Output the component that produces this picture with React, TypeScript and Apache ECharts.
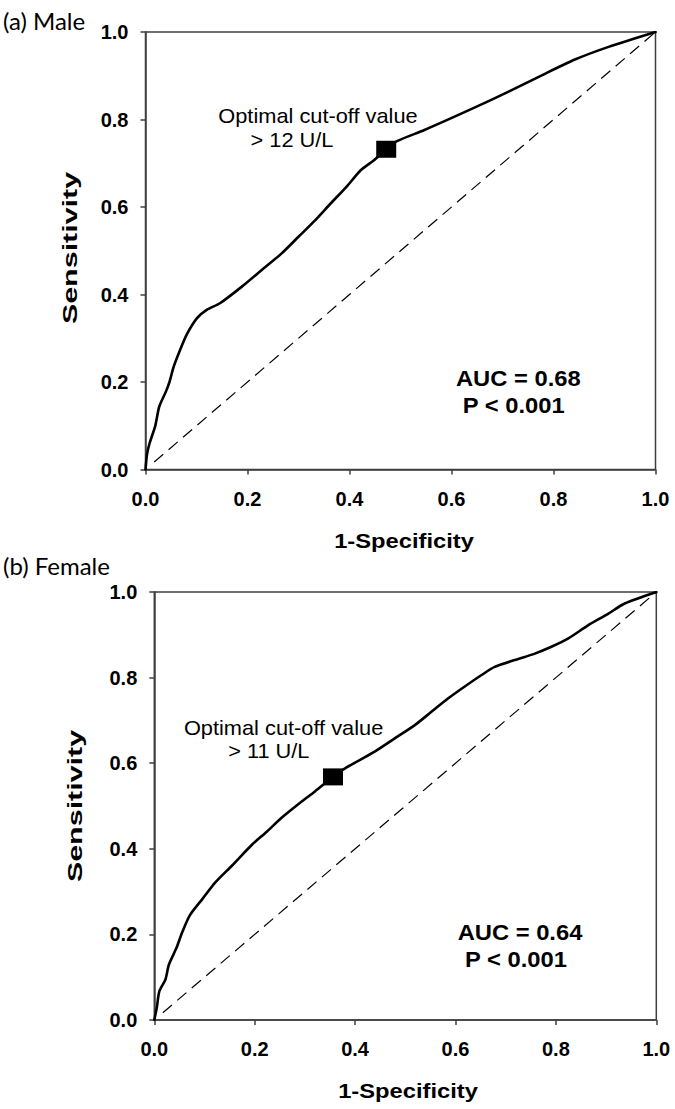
import React, { useEffect, useRef } from "react";
import * as echarts from "echarts";

// ---- Data ----
const MALE_X = [0, 0.003, 0.008, 0.019, 0.027, 0.040, 0.047, 0.055, 0.067, 0.081, 0.101, 0.12, 0.146, 0.189, 0.228, 0.267, 0.30, 0.333, 0.363, 0.394, 0.422, 0.448, 0.472, 0.494, 0.547, 0.645, 0.711, 0.777, 0.842, 0.908, 1];
const MALE_Y = [0, 0.035, 0.06, 0.099, 0.144, 0.178, 0.2, 0.234, 0.271, 0.309, 0.346, 0.365, 0.38, 0.418, 0.456, 0.494, 0.532, 0.570, 0.608, 0.646, 0.684, 0.707, 0.732, 0.751, 0.776, 0.827, 0.863, 0.901, 0.937, 0.966, 1];
const FEMALE_X = [0, 0.005, 0.010, 0.022, 0.029, 0.044, 0.056, 0.071, 0.096, 0.122, 0.155, 0.194, 0.224, 0.253, 0.293, 0.32, 0.356, 0.38, 0.439, 0.479, 0.519, 0.552, 0.585, 0.622, 0.652, 0.678, 0.718, 0.758, 0.791, 0.824, 0.864, 0.904, 0.937, 1];
const FEMALE_Y = [0, 0.029, 0.067, 0.094, 0.129, 0.168, 0.206, 0.245, 0.283, 0.322, 0.361, 0.409, 0.44, 0.472, 0.51, 0.534, 0.568, 0.588, 0.627, 0.658, 0.689, 0.720, 0.751, 0.782, 0.806, 0.825, 0.841, 0.856, 0.872, 0.891, 0.922, 0.949, 0.973, 1];
const MALE_CUTOFF = [0.472, 0.732];
const FEMALE_CUTOFF = [0.356, 0.568];
const DIAG_X = [0.017, 1];
const DIAG_Y = [0.017, 1];
const PANEL_LABELS = ["(a) Male", "(b) Female"];
const CUTOFF_LABELS = ["> 12 U/L", "> 11 U/L"];
const AUC_LABELS = ["AUC = 0.68", "AUC = 0.64"];
const P_LABEL = "P < 0.001";
const X_NAME = "1-Specificity";
const Y_NAME = "Sensitivity";
const OPT_LABEL = "Optimal cut-off value";

const zip = (xs: number[], ys: number[]) => xs.map((x, i) => [x, ys[i]]);

const AXIS_COLOR = "#3f3f3f";
const FONT = "'Liberation Sans', Arial, sans-serif";

function xAxis(gridIndex: number) {
  return {
    type: "value",
    gridIndex,
    min: 0,
    max: 1,
    interval: 0.2,
    axisLine: { show: true, lineStyle: { color: AXIS_COLOR, width: 1.5 } },
    axisTick: { show: true, length: 5, lineStyle: { color: AXIS_COLOR, width: 1.5 } },
    axisLabel: {
      color: "#000",
      fontFamily: FONT,
      fontWeight: "bold",
      fontSize: 20,
      margin: 19,
      formatter: (v: number) => v.toFixed(1),
    },
    splitLine: { show: false },
  };
}

function yAxis(gridIndex: number) {
  return {
    type: "value",
    gridIndex,
    min: 0,
    max: 1,
    interval: 0.2,
    axisLine: { show: true, lineStyle: { color: AXIS_COLOR, width: 1.5 } },
    axisTick: { show: true, length: 5, lineStyle: { color: AXIS_COLOR, width: 1.5 } },
    axisLabel: {
      color: "#000",
      fontFamily: FONT,
      fontWeight: "bold",
      fontSize: 20,
      margin: 17,
      formatter: (v: number) => v.toFixed(1),
    },
    splitLine: { show: false },
  };
}

function txt(
  text: string,
  x: number,
  y: number,
  opts: { size: number; weight?: string; sx?: number; family?: string; align?: string; rot?: number }
) {
  return {
    type: "text",
    x,
    y,
    scaleX: opts.sx ?? 1,
    scaleY: 1,
    rotation: opts.rot ?? 0,
    silent: true,
    style: {
      text,
      x: 0,
      y: 0,
      fill: "#000",
      fontSize: opts.size,
      fontWeight: opts.weight ?? "normal",
      fontFamily: opts.family ?? FONT,
      align: opts.align ?? "center",
      verticalAlign: "middle",
    },
  };
}

function curveSeries(idx: number, xs: number[], ys: number[], cutoff: number[]) {
  return [
    {
      type: "line",
      xAxisIndex: idx,
      yAxisIndex: idx,
      data: zip(DIAG_X, DIAG_Y),
      showSymbol: false,
      symbol: "none",
      lineStyle: { color: "#000", width: 1.2, type: [12, 7] },
      z: 2,
    },
    {
      type: "line",
      xAxisIndex: idx,
      yAxisIndex: idx,
      data: zip(xs, ys),
      smooth: 0.25,
      showSymbol: false,
      symbol: "none",
      lineStyle: { color: "#000", width: 2.6, join: "round", cap: "round" },
      z: 3,
    },
    {
      type: "scatter",
      xAxisIndex: idx,
      yAxisIndex: idx,
      data: [cutoff],
      symbol: "rect",
      symbolSize: [20, 17],
      itemStyle: { color: "#000", opacity: 1 },
      z: 4,
    },
  ];
}

export default function App() {
  const ref = useRef<HTMLDivElement>(null);

  useEffect(() => {
    if (!ref.current) return;
    const chart = echarts.init(ref.current, null, { renderer: "svg" });
    const option = {
      animation: false,
      backgroundColor: "#fff",
      grid: [
        { left: 145.5, top: 32, width: 510, height: 437.5, show: true, borderColor: AXIS_COLOR, borderWidth: 1.5, backgroundColor: "transparent" },
        { left: 154.3, top: 592, width: 502, height: 428, show: true, borderColor: AXIS_COLOR, borderWidth: 1.5, backgroundColor: "transparent" },
      ],
      xAxis: [xAxis(0), xAxis(1)],
      yAxis: [yAxis(0), yAxis(1)],
      series: [
        ...curveSeries(0, MALE_X, MALE_Y, MALE_CUTOFF),
        ...curveSeries(1, FEMALE_X, FEMALE_Y, FEMALE_CUTOFF),
      ],
      graphic: [
        // panel a
        txt(PANEL_LABELS[0], 3, 20, { size: 24, family: "Lato, 'Open Sans', sans-serif", align: "left" }),
        txt(OPT_LABEL, 318, 115.4, { size: 20, sx: 1.09 }),
        txt(CUTOFF_LABELS[0], 292, 139.5, { size: 20, sx: 1.09 }),
        txt(AUC_LABELS[0], 518.3, 378, { size: 22, weight: "bold", sx: 1.08 }),
        txt(P_LABEL, 513.8, 405.5, { size: 22, weight: "bold", sx: 1.08 }),
        txt(X_NAME, 404, 541, { size: 21, weight: "bold", sx: 1.13 }),
        txt(Y_NAME, 70, 248, { size: 21, weight: "bold", sx: 1.45, rot: Math.PI / 2 }),
        // panel b
        txt(PANEL_LABELS[1], 3, 565, { size: 24, family: "Lato, 'Open Sans', sans-serif", align: "left" }),
        txt(OPT_LABEL, 283.6, 728.3, { size: 20, sx: 1.09 }),
        txt(CUTOFF_LABELS[1], 268.8, 751, { size: 20, sx: 1.09 }),
        txt(AUC_LABELS[1], 520, 932.3, { size: 22, weight: "bold", sx: 1.08 }),
        txt(P_LABEL, 516, 959, { size: 22, weight: "bold", sx: 1.08 }),
        txt(X_NAME, 408, 1091, { size: 21, weight: "bold", sx: 1.13 }),
        txt(Y_NAME, 75, 806, { size: 21, weight: "bold", sx: 1.45, rot: Math.PI / 2 }),
      ],
    };
    chart.setOption(option as any);
    return () => chart.dispose();
  }, []);

  return (
    <div
      ref={ref}
      style={{ position: "absolute", left: 0, top: 0, width: 675, height: 1109, background: "#fff" }}
    />
  );
}
